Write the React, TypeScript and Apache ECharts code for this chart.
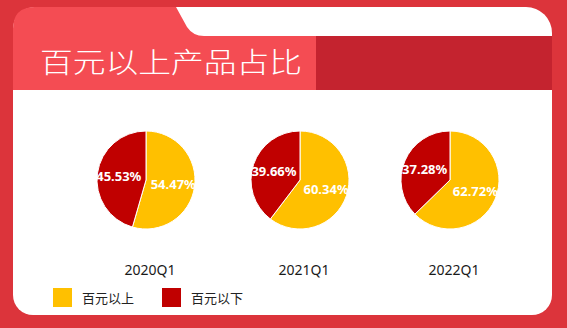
import React, { useEffect, useRef } from "react";
import * as echarts from "echarts";

const periods = ["2020Q1", "2021Q1", "2022Q1"];
const aboveHundred = [54.47, 60.34, 62.72];
const belowHundred = [45.53, 39.66, 37.28];
const legendNames = ["百元以上", "百元以下"];
const titleText = "百元以上产品占比";

const YELLOW = "#FFC000";
const RED = "#C00000";

echarts.graphic.registerShape(
  "tab",
  echarts.graphic.extendPath(
    "M13 90 L13 29 Q13 7 35 7 L176 7 L187 27 Q193 36 204 36 L316 36 L316 90 Z",
    {}
  )
);

const centersX = [146, 300, 450];

export default function App() {
  const ref = useRef<HTMLDivElement>(null);
  useEffect(() => {
    if (!ref.current) return;
    const chart = echarts.init(ref.current, undefined, { renderer: "svg" });
    const series = periods.map((p, i) => ({
      type: "pie",
      name: p,
      center: [centersX[i], 180],
      radius: 49,
      startAngle: 90,
      clockwise: true,
      itemStyle: { borderColor: "#fff", borderWidth: 1 },
      label: {
        show: true,
        position: "inside",
        formatter: "{c}%",
        color: "#fff",
        fontSize: 13,
        fontWeight: "bold",
        fontFamily: "Noto Sans",
      },
      labelLine: { show: false },
      emphasis: { disabled: true },
      data: [
        { name: legendNames[0], value: aboveHundred[i], itemStyle: { color: YELLOW } },
        { name: legendNames[1], value: belowHundred[i], itemStyle: { color: RED } },
      ],
    }));
    chart.setOption({
      animation: false,
      graphic: [
        { type: "rect", shape: { x: 0, y: 0, width: 567, height: 328 }, style: { fill: "#dc343b" }, z: -10 },
        {
          type: "rect",
          shape: { x: 13, y: 7, width: 539, height: 308, r: [22, 26, 20, 20] },
          style: { fill: "#ffffff" },
          z: -9,
        },
        { type: "tab", x: 0, y: 0, style: { fill: "#f44c53" }, z: -8 },
        { type: "rect", shape: { x: 316, y: 36, width: 236, height: 54 }, style: { fill: "#c4232f" }, z: -8 },
        {
          type: "text",
          x: 40,
          y: 61,
          scaleX: 1.17,
          style: {
            text: titleText,
            fill: "#ffffff",
            fontSize: 28,
            fontWeight: 300,
            fontFamily: "Noto Sans CJK SC",
            verticalAlign: "middle",
            textAlign: "left",
          },
          z: -7,
        },
        ...periods.map((p, i) => ({
          type: "text",
          x: centersX[i] + 4,
          y: 269,
          style: {
            text: p,
            fill: "#1a1a1a",
            fontSize: 14,
            fontFamily: "Noto Sans",
            textAlign: "center",
            verticalAlign: "middle",
          },
        })),
      ],
      legend: {
        data: legendNames,
        left: 53,
        top: 288,
        padding: 0,
        icon: "rect",
        itemWidth: 19,
        itemHeight: 19,
        itemGap: 28,
        itemStyle: { borderWidth: 0 },
        textStyle: { fontSize: 13, color: "#222", fontFamily: "Noto Sans CJK SC", padding: [0, 0, 0, 5] },
      },
      series,
    });
    return () => chart.dispose();
  }, []);
  return (
    <div
      ref={ref}
      style={{ position: "absolute", left: 0, top: 0, width: 567, height: 328 }}
    />
  );
}
